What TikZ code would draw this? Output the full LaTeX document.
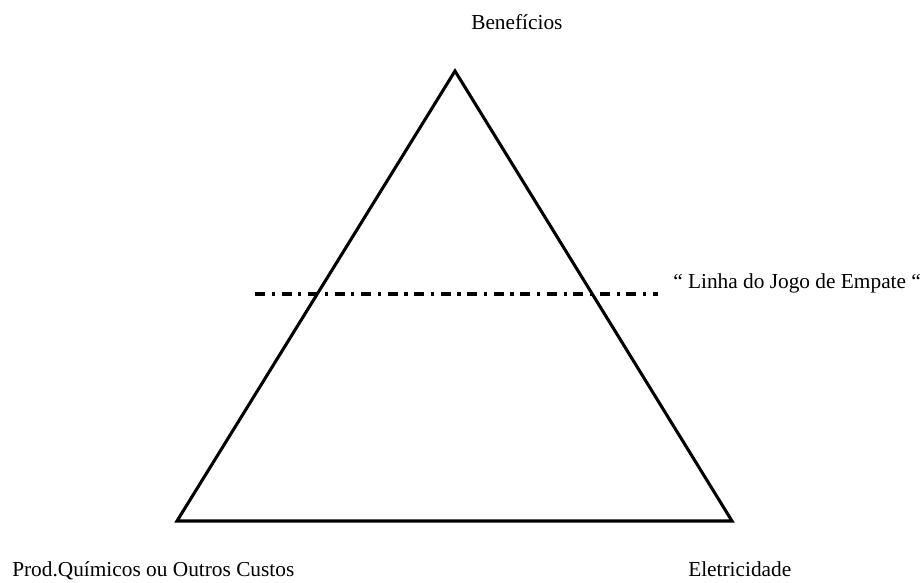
\documentclass[tikz,border=0pt]{standalone}
\usepackage{fontspec}
\setmainfont{Liberation Serif}
\begin{document}
\begin{tikzpicture}[x=0.75pt,y=-0.75pt,
  lbl/.style={font=\fontsize{16}{19}\selectfont, inner sep=0pt, anchor=base west},
  edge/.style={line width=2.3pt, line join=miter},
  tieline/.style={line width=2.3pt, dash pattern=on 7.5pt off 5pt on 2.4pt off 5pt}]
  \useasboundingbox (0,0) rectangle (924,582);
  % vertices of the triangle
  \coordinate (top) at (455,71);
  \coordinate (bl) at (177,521);
  \coordinate (br) at (732,521);
  \draw[edge] (top) -- (br) -- (bl) -- cycle;
  % horizontal tie line
  \coordinate (ls) at (255,294);
  \coordinate (le) at (658,294);
  \draw[tieline] (ls) -- (le);
  % labels
  \node[lbl] (ben) at (471,29) {Benefícios};
  \node[lbl] (linha) at (673,288) {“ Linha do Jogo de Empate “};
  \node[lbl] (prod) at (12,576) {Prod.Químicos ou Outros Custos};
  \node[lbl] (ele) at (688,576) {Eletricidade};
\end{tikzpicture}
\end{document}
